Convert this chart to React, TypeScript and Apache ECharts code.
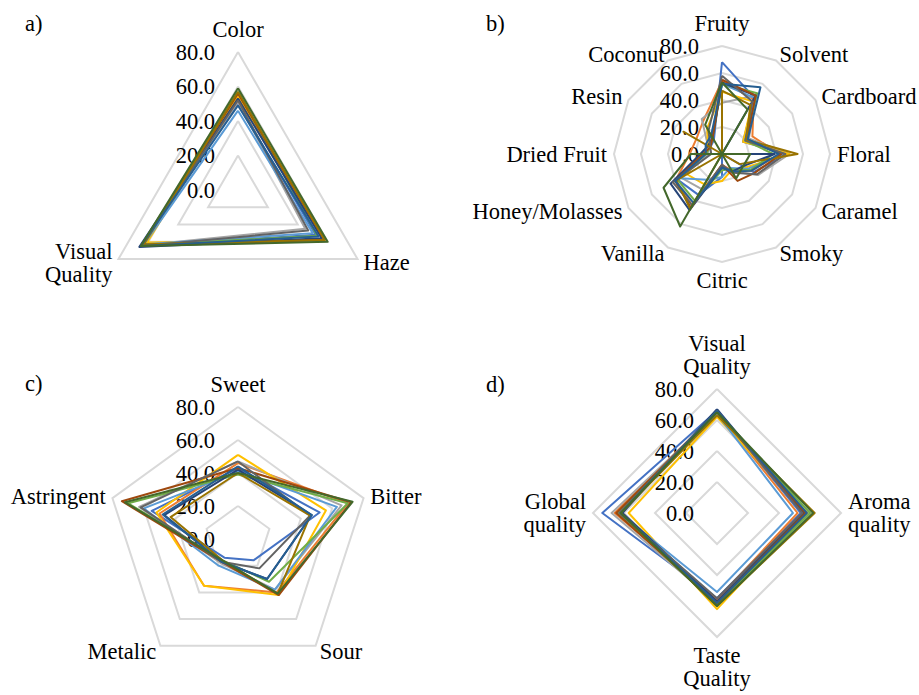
import React, { useEffect, useRef } from "react";
import * as echarts from "echarts";

const FONT = "Liberation Serif, Times New Roman, serif";
const FONT_SIZE = 22.5;

const SAMPLES = ["S1", "S2", "S3", "S4", "S5", "S6", "S7", "S8", "S9", "S10", "S11", "S12"];
const COLORS = [
  "#4472C4", "#ED7D31", "#A5A5A5", "#FFC000", "#5B9BD5", "#70AD47",
  "#264478", "#9E480E", "#636363", "#997300", "#255E91", "#43682B",
];

const SCALE_MAX = 80;

// Panel a) (clockwise from top)
const AXES_A = ["Color", "Haze", "Visual\nQuality"];
const VALUES_A = [
  [50, 52, 65],
  [54, 57, 64],
  [51, 45, 64],
  [55, 58, 61],
  [46, 50, 63],
  [57, 53, 64],
  [53, 56, 66],
  [56, 58, 64],
  [52, 47, 65],
  [57, 58, 63],
  [49, 54, 65],
  [59, 60, 65],
];

// Panel b) (clockwise from top)
const AXES_B = [
  "Fruity", "Solvent", "Cardboard", "Floral", "Caramel", "Smoky",
  "Citric", "Vanilla", "Honey/Molasses", "Dried Fruit", "Resin", "Coconut",
];
const VALUES_B = [
  [68, 48, 18, 48, 27, 0, 17, 35, 38, 12, 10, 12],
  [54, 47, 26, 43, 25, 14, 8, 44, 40, 24, 22, 28],
  [38, 50, 23, 50, 31, 15, 10, 30, 35, 10, 12, 30],
  [46, 45, 18, 50, 20, 14, 20, 26, 30, 15, 12, 22],
  [52, 48, 20, 46, 22, 12, 17, 22, 36, 14, 10, 15],
  [52, 52, 20, 38, 24, 13, 12, 40, 38, 12, 10, 14],
  [53, 50, 0, 39, 18, 15, 10, 48, 44, 16, 12, 14],
  [55, 50, 21, 44, 28, 23, 8, 46, 40, 14, 10, 14],
  [58, 45, 20, 47, 30, 16, 8, 44, 42, 8, 10, 20],
  [47, 42, 21, 56, 15, 0, 0, 47, 39, 0, 33, 0],
  [52, 57, 22, 42, 25, 15, 10, 42, 40, 12, 14, 16],
  [53, 38, 0, 21, 18, 21, 0, 62, 50, 23, 0, 25],
];

// Panel c) (clockwise from top)
const AXES_C = ["Sweet", "Bitter", "Sour", "Metalic", "Astringent"];
const VALUES_C = [
  [43, 52, 16, 14, 55],
  [46, 70, 40, 35, 50],
  [47, 66, 38, 18, 63],
  [51, 56, 42, 35, 52],
  [41, 63, 38, 20, 60],
  [39, 70, 32, 16, 70],
  [42, 47, 30, 17, 47],
  [43, 72, 42, 17, 74],
  [47, 46, 22, 17, 62],
  [40, 46, 41, 16, 43],
  [44, 47, 30, 17, 48],
  [40, 73, 41, 16, 72],
];

// Panel d) (clockwise from top)
const AXES_D = ["Visual\nQuality", "Aroma\nquality", "Taste\nQuality", "Global\nquality"];
const VALUES_D = [
  [66, 54, 55, 74],
  [65, 52, 56, 66],
  [64, 58, 58, 68],
  [62, 58, 62, 57],
  [64, 49, 51, 63],
  [65, 60, 59, 64],
  [67, 56, 57, 61],
  [65, 57, 58, 65],
  [66, 55, 55, 63],
  [63, 63, 60, 62],
  [66, 58, 58, 62],
  [65, 62, 60, 62],
];

const PANEL_LABELS = ["a)", "b)", "c)", "d)"];

// ECharts lays indicators out counter-clockwise; reorder to get clockwise.
function ccw<T>(arr: T[]): T[] {
  return [arr[0], ...arr.slice(1).reverse()];
}

function radarCfg(center: number[], radius: number, axes: string[]) {
  return {
    center,
    radius,
    startAngle: 90,
    shape: "polygon",
    splitNumber: 4,
    nameGap: 7,
    indicator: ccw(axes).map((name, i) => ({
      name,
      min: 0,
      max: SCALE_MAX,
      axisLabel: { show: i === 0 },
    })),
    axisName: { color: "#000", fontFamily: FONT, fontSize: FONT_SIZE },
    splitLine: { lineStyle: { color: "#D9D9D9", width: 2 } },
    splitArea: { show: false },
    axisLine: { show: false },
    axisTick: { show: false },
    axisLabel: {
      show: false,
      margin: 23,
      color: "#000",
      fontFamily: FONT,
      fontSize: FONT_SIZE,
      formatter: (v: number) => Number(v).toFixed(1),
    },
  };
}

function radarSeries(idx: number, values: number[][]) {
  return {
    type: "radar",
    radarIndex: idx,
    symbol: "none",
    silent: true,
    data: values.map((row, i) => ({
      name: SAMPLES[i],
      value: ccw(row),
      lineStyle: { color: COLORS[i], width: 2 },
      itemStyle: { color: COLORS[i] },
    })),
  };
}

export default function App() {
  const ref = useRef<HTMLDivElement>(null);
  useEffect(() => {
    if (!ref.current) return;
    const chart = echarts.init(ref.current, undefined, { renderer: "svg" });
    const labelPos = [
      [25, 25],
      [486, 25],
      [25, 385],
      [486, 386],
    ];
    chart.setOption({
      animation: false,
      backgroundColor: "#fff",
      textStyle: { fontFamily: FONT },
      radar: [
        radarCfg([238, 190], 138, AXES_A),
        radarCfg([722, 154], 108, AXES_B),
        radarCfg([238, 539], 132, AXES_C),
        radarCfg([717, 513], 124, AXES_D),
      ],
      series: [
        radarSeries(0, VALUES_A),
        radarSeries(1, VALUES_B),
        radarSeries(2, VALUES_C),
        radarSeries(3, VALUES_D),
      ],
      graphic: PANEL_LABELS.map((t, i) => ({
        type: "text",
        left: labelPos[i][0],
        top: labelPos[i][1] - 13,
        style: { text: t, fill: "#000", fontFamily: FONT, fontSize: FONT_SIZE },
      })),
    });
    return () => chart.dispose();
  }, []);
  return (
    <div
      ref={ref}
      style={{ position: "absolute", left: 0, top: 0, width: 919, height: 695 }}
    />
  );
}
